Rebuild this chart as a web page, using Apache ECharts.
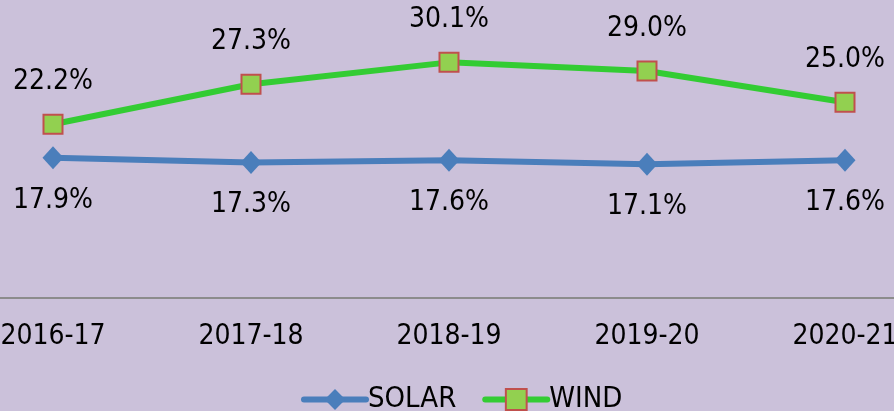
<!DOCTYPE html>
<html><head><meta charset="utf-8">
<script src="https://cdn.jsdelivr.net/npm/echarts@6/dist/echarts.min.js"></script>
<style>html,body{margin:0;padding:0;background:#cbc1da;overflow:hidden;width:894px;height:411px}#c{width:990px;height:411px;margin-left:-46px}</style>
</head><body><div id="c"></div>
<script>
var categories = ['2016-17','2017-18','2018-19','2019-20','2020-21'];
var solar = [17.9, 17.3, 17.6, 17.1, 17.6];
var wind = [22.2, 27.3, 30.1, 29.0, 25.0];
var FONT = '"Liberation Sans Narrow","DejaVu Sans Condensed","Liberation Sans",sans-serif';
var chart = echarts.init(document.getElementById('c'));
function fmt(p){ return p.value.toFixed(1) + '%'; }
chart.setOption({
  backgroundColor: '#cbc1da',
  animation: false,
  grid: {left: 0, right: 0, top: 24, bottom: 113, containLabel: false},
  xAxis: {
    type: 'category', data: categories, boundaryGap: true,
    axisLine: {lineStyle: {color: '#8c8c8c', width: 2}},
    axisTick: {show: false},
    axisLabel: {color: '#000', fontFamily: FONT, fontSize: 28, margin: 25, interval: 0}
  },
  yAxis: {type: 'value', min: 0, max: 35, show: false, splitLine: {show: false}},
  legend: {
    left: 347, top: 385, padding: 0, itemWidth: 62, itemHeight: 26, itemGap: 26,
    lineStyle: {width: 6, cap: 'round'},
    textStyle: {color: '#000', fontFamily: FONT, fontSize: 29, padding: [0,0,0,-3]},
    data: ['SOLAR','WIND']
  },
  series: [
    {
      name: 'SOLAR', type: 'line', data: solar,
      symbol: 'diamond', symbolSize: [21, 23],
      lineStyle: {color: '#4a7ebb', width: 6},
      itemStyle: {color: '#4a7ebb'},
      label: {show: true, position: 'bottom', distance: 17, formatter: fmt,
        color: '#000', fontFamily: FONT, fontSize: 28}
    },
    {
      name: 'WIND', type: 'line', data: wind,
      symbol: 'rect', symbolSize: 19,
      lineStyle: {color: '#33cc33', width: 6},
      itemStyle: {color: '#92d050', borderColor: '#c0504d', borderWidth: 2},
      label: {show: true, position: 'top', distance: 18, formatter: fmt,
        color: '#000', fontFamily: FONT, fontSize: 28}
    }
  ]
});
</script></body></html>
